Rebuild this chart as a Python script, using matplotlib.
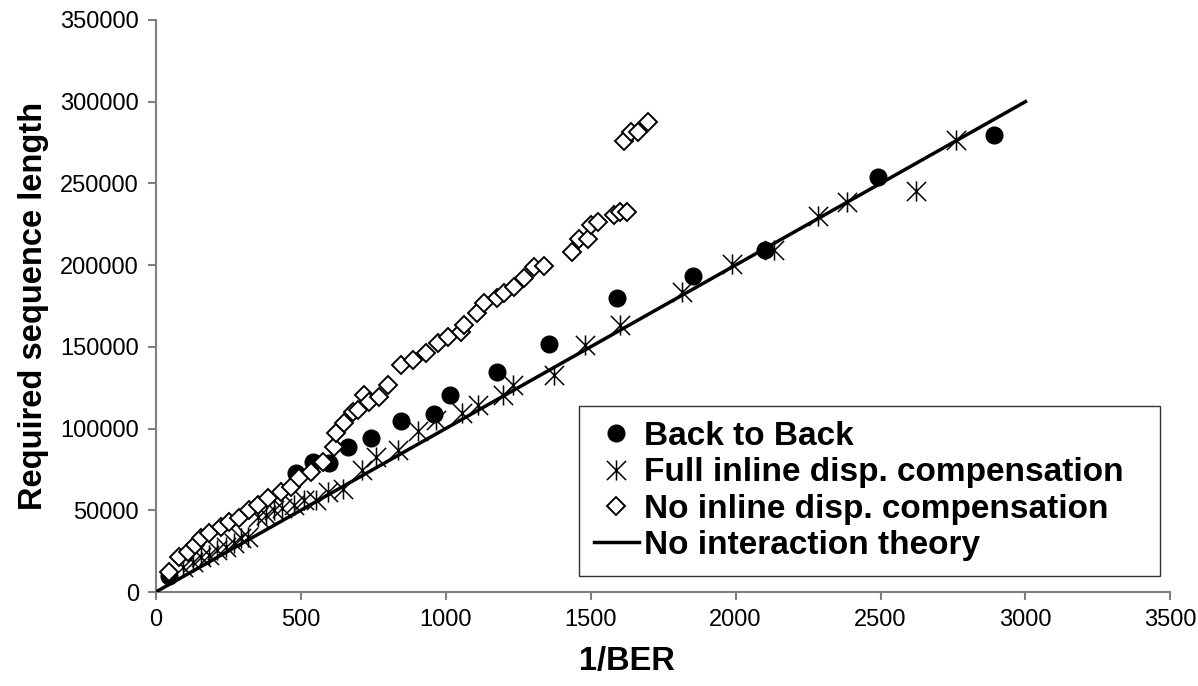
import matplotlib.pyplot as plt
from matplotlib.path import Path

plt.rcParams['font.family'] = ['Liberation Sans', 'DejaVu Sans']

# Back to Back
b2b_x = [45, 483, 541, 597, 662, 741, 845, 959, 1014, 1176, 1355, 1590, 1852, 2100, 2490, 2893]
b2b_y = [10000, 72800, 79600, 79000, 88700, 94200, 104600, 109000, 120600, 134600,
         151800, 180000, 193400, 209300, 254000, 279700]

# Full inline disp. compensation
full_x = [95, 127, 155, 183, 213, 241, 269, 293, 317, 351, 379, 407, 437, 476, 510, 552, 593,
          645, 710, 759, 834, 903, 966, 1058, 1110, 1197, 1234, 1372, 1479, 1600, 1814, 1986,
          2131, 2286, 2383, 2624, 2762]
full_y = [15000, 18400, 21400, 22600, 25700, 27500, 30000, 33000, 33700, 45900, 47100, 50200,
          51400, 53200, 56300, 56300, 61200, 63000, 74700, 82600, 86900, 98500, 105000, 109500,
          114400, 120600, 126700, 132800, 151000, 163400, 183600, 200700, 209300, 230100, 238700,
          245400, 276600]

# No inline disp. compensation
no_x = [46, 80, 110, 135, 155, 183, 224, 252, 287, 320, 351, 386, 431, 466, 493, 534, 576,
        614, 621, 648, 679, 697, 717, 734, 769, 800, 845, 886, 931, 972, 1007, 1052, 1063,
        1107, 1132, 1178, 1200, 1235, 1270, 1305, 1338, 1437, 1460, 1490, 1500, 1524, 1579,
        1603, 1627, 1614, 1638, 1665, 1697]
no_y = [12200, 21400, 24500, 29000, 33000, 36100, 39800, 42800, 45300, 50200, 53200, 57500,
        61200, 64300, 69800, 73400, 79600, 88700, 97300, 103400, 110200, 111400, 120600,
        116300, 119300, 126700, 138900, 142000, 146300, 152400, 156100, 159100, 163400,
        170700, 176900, 179900, 183000, 186700, 192200, 198900, 199500, 208000, 216000,
        216000, 224600, 226400, 230700, 232600, 232600, 276000, 281500, 281500, 287600]

theory_x = [0, 3000]
theory_y = [0, 300000]

# Excel-style star: X plus vertical bar
star = Path([(-1, -1), (1, 1), (-1, 1), (1, -1), (0, -1.05), (0, 1.05)],
            [Path.MOVETO, Path.LINETO, Path.MOVETO, Path.LINETO, Path.MOVETO, Path.LINETO])

fig = plt.figure(figsize=(11.98, 6.86), dpi=100)
ax = fig.add_axes([0.13, 0.137, 0.847, 0.834])

ax.plot(b2b_x, b2b_y, 'o', color='black', markersize=12, label='Back to Back', zorder=3)
ax.plot(full_x, full_y, linestyle='none', marker=star, color='black', markersize=14.5,
        markeredgewidth=1.1, markerfacecolor='none', label='Full inline disp. compensation', zorder=3)
ax.plot(no_x, no_y, 'D', color='black', markersize=9.5, markerfacecolor='white',
        markeredgewidth=1.4, label='No inline disp. compensation', zorder=4)
ax.plot(theory_x, theory_y, '-', color='black', linewidth=2.5, label='No interaction theory', zorder=5)

ax.set_xlim(0, 3500)
ax.set_ylim(0, 350000)
ax.set_xticks(range(0, 3501, 500))
ax.set_yticks(range(0, 350001, 50000))
for s in ['top', 'right']:
    ax.spines[s].set_visible(False)
for s in ['left', 'bottom']:
    ax.spines[s].set_color('#808080')
    ax.spines[s].set_linewidth(1.5)
ax.tick_params(direction='out', length=6, width=1.5, color='#808080', labelsize=17, pad=6)

ax.set_xlabel('1/BER', fontsize=23.5, fontweight='bold')
ax.xaxis.set_label_coords(0.464, -0.094)
ax.set_ylabel('Required sequence length', fontsize=23.5, fontweight='bold', labelpad=8)

leg = ax.legend(loc='lower left', bbox_to_anchor=(0.417, 0.028, 0.573, 0.302), mode='expand',
                prop={'weight': 'bold', 'size': 24}, frameon=True, fancybox=False,
                handlelength=1.35, handletextpad=0.15, borderpad=0.45, labelspacing=0.16,
                borderaxespad=0)
leg.get_frame().set_edgecolor('black')
leg.get_frame().set_linewidth(1.0)

fig.savefig('out.png', dpi=100)
